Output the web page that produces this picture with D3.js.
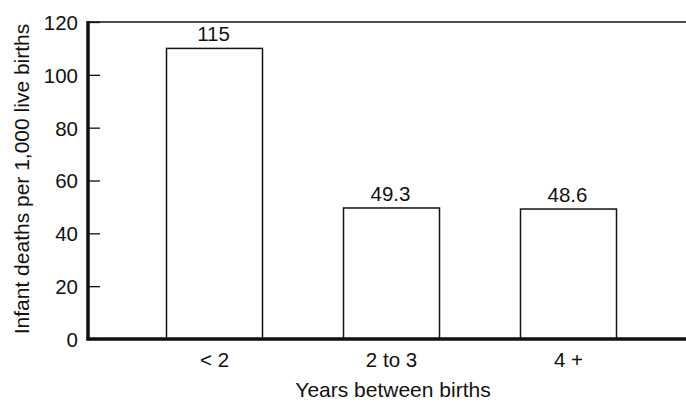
<!DOCTYPE html>
<html><head><meta charset="utf-8">
<script src="https://cdn.jsdelivr.net/npm/d3@7"></script>
<style>body{margin:0;background:#fff}svg{display:block}text{font-family:"Liberation Sans",Arial,sans-serif;fill:#111}</style>
</head><body>
<script>
const categories = ["< 2", "2 to 3", "4 +"];
const values = [110, 49.6, 49.2];
const valueLabels = ["115", "49.3", "48.6"];
const yTicks = [0, 20, 40, 60, 80, 100, 120];
const xTitle = "Years between births";
const yTitle = "Infant deaths per 1,000 live births";

const W = 686, H = 402;
const svg = d3.select("body").append("svg").attr("width", W).attr("height", H);
const x0 = 88, x1 = 686, yTop = 22, yBot = 339;

const y = d3.scaleLinear().domain([0, 120]).range([yBot, yTop]);
const pi = 81 / 177;
const x = d3.scaleBand().domain(categories).range([126, 657]).paddingInner(pi).paddingOuter(pi / 2);

// top border
svg.append("line").attr("x1", x0).attr("x2", x1).attr("y1", yTop).attr("y2", yTop)
  .attr("stroke", "#111").attr("stroke-width", 1.5);

// y axis
const yAxis = d3.axisRight(y).tickValues(yTicks).tickSize(12).tickFormat(d => d);
const gy = svg.append("g").attr("transform", `translate(${x0},0)`).call(yAxis);
gy.select(".domain").remove();
gy.selectAll(".tick line").attr("stroke", "#111").attr("stroke-width", 1.3);
gy.selectAll(".tick text").attr("x", -10).attr("text-anchor", "end").attr("dy", "0.36em")
  .style("font-size", "20.5px").attr("fill", "#111");

// bars
svg.selectAll("rect.bar").data(categories).enter().append("rect").attr("class", "bar")
  .attr("x", d => x(d)).attr("width", x.bandwidth())
  .attr("y", (d, i) => y(values[i])).attr("height", (d, i) => yBot - y(values[i]))
  .attr("fill", "#fff").attr("stroke", "#111").attr("stroke-width", 1.5);

svg.selectAll("text.vl").data(categories).enter().append("text").attr("class", "vl")
  .attr("x", d => x(d) + x.bandwidth() / 2 - 1)
  .attr("y", (d, i) => y(values[i]) - 7)
  .attr("text-anchor", "middle").style("font-size", "20.5px")
  .text((d, i) => valueLabels[i]);

// x axis
const xAxis = d3.axisBottom(x).tickSize(0).tickPadding(0);
const gx = svg.append("g").attr("transform", `translate(0,${yBot})`).call(xAxis);
gx.select(".domain").remove();
gx.selectAll(".tick text").attr("y", 28).attr("dy", 0).style("font-size", "20.5px").attr("fill", "#111");

// thick axis lines
svg.append("line").attr("x1", x0).attr("x2", x0).attr("y1", yTop - 1).attr("y2", yBot + 1.5)
  .attr("stroke", "#111").attr("stroke-width", 3.5);
svg.append("line").attr("x1", x0 - 1.5).attr("x2", x1).attr("y1", yBot).attr("y2", yBot)
  .attr("stroke", "#111").attr("stroke-width", 3.5);

// titles
svg.append("text").attr("x", 393).attr("y", 397).attr("text-anchor", "middle")
  .style("font-size", "21px").text(xTitle);
svg.append("text").attr("transform", `translate(29,179) rotate(-90)`).attr("text-anchor", "middle")
  .style("font-size", "21px").text(yTitle);
</script>
</body></html>
